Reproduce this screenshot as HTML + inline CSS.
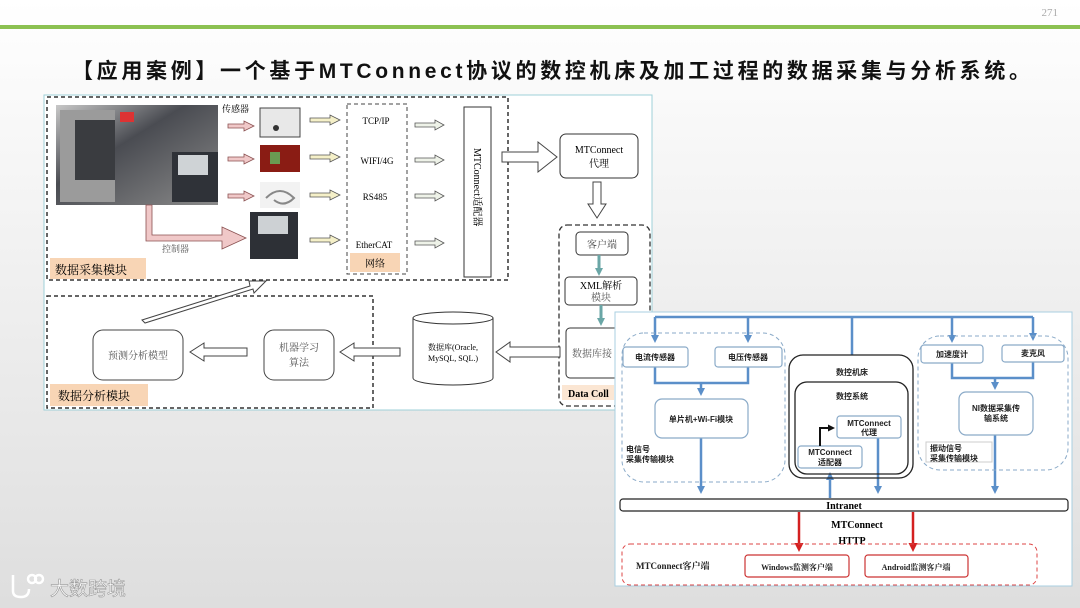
<!DOCTYPE html>
<html><head><meta charset="utf-8"><style>
html,body{margin:0;padding:0;}
body{width:1080px;height:608px;overflow:hidden;background:linear-gradient(#ffffff 0,#fafafa 90px,#ececec 350px,#dedede 608px);font-family:"Liberation Serif","Noto Serif CJK SC",serif;}
svg{position:absolute;left:0;top:0;}
</style></head><body>
<svg width="1080" height="608" viewBox="0 0 1080 608" xmlns="http://www.w3.org/2000/svg" font-family="'Liberation Serif','Noto Serif CJK SC',serif">
<defs>
<marker id="bl" markerWidth="8" markerHeight="8" refX="4" refY="4" orient="auto" markerUnits="userSpaceOnUse"><path d="M0,0 L8,4 L0,8 Z" fill="#5b8fc9"/></marker>
<marker id="rd" markerWidth="9" markerHeight="9" refX="5" refY="4.5" orient="auto" markerUnits="userSpaceOnUse"><path d="M0,0 L9,4.5 L0,9 Z" fill="#d42020"/></marker>
<marker id="bk" markerWidth="7" markerHeight="7" refX="4" refY="3.5" orient="auto" markerUnits="userSpaceOnUse"><path d="M0,0 L7,3.5 L0,7 Z" fill="#111"/></marker>
<linearGradient id="mach" x1="0" y1="0" x2="1" y2="1"><stop offset="0" stop-color="#c8c8c8"/><stop offset="0.4" stop-color="#4a4c52"/><stop offset="1" stop-color="#8a8a8a"/></linearGradient>
</defs>
<!-- header -->
<text x="1058" y="16" font-size="11" fill="#aaa" text-anchor="end">271</text>
<rect x="0" y="25" width="1080" height="4" fill="#8cc152"/>
<text x="72" y="78" font-size="21" fill="#111" font-weight="bold" font-family="'Liberation Sans','Noto Sans CJK SC',sans-serif" textLength="958" lengthAdjust="spacing">【应用案例】一个基于MTConnect协议的数控机床及加工过程的数据采集与分析系统。</text>

<!-- left panel -->
<rect x="44" y="95" width="608" height="315" fill="#fff" stroke="#9fd0d8" stroke-width="1"/>
<rect x="47" y="97" width="461" height="183" fill="none" stroke="#333" stroke-width="1.5" stroke-dasharray="4,3"/>
<rect x="56" y="105" width="162" height="100" fill="url(#mach)"/>
<rect x="60" y="110" width="55" height="92" fill="#9b9b9b"/>
<rect x="75" y="120" width="40" height="60" fill="#3a3c40"/>
<rect x="120" y="112" width="14" height="10" fill="#d33"/>
<rect x="172" y="152" width="46" height="50" fill="#2f3238"/>
<rect x="178" y="155" width="30" height="20" fill="#cfd3d6"/>
<text x="222" y="112" font-size="9">传感器</text>
<rect x="260" y="108" width="40" height="29" fill="#e8e8e8" stroke="#444"/>
<circle cx="276" cy="128" r="3" fill="#333"/>
<rect x="260" y="145" width="40" height="27" fill="#8a1c14"/>
<rect x="270" y="152" width="10" height="12" fill="#6a9a52"/>
<rect x="260" y="182" width="40" height="26" fill="#f2f2f2"/>
<path d="M266 198 q14 -14 28 0 q-10 10 -20 2" stroke="#888" fill="none" stroke-width="2"/>
<rect x="250" y="212" width="48" height="47" fill="#2d3036"/>
<rect x="258" y="216" width="30" height="18" fill="#cdd1d4"/>
<g fill="#f0c8c8" stroke="#8a5050" stroke-width="0.8">
<path d="M228 124 h16 v-3 l10 5 l-10 5 v-3 h-16 z"/>
<path d="M228 157 h16 v-3 l10 5 l-10 5 v-3 h-16 z"/>
<path d="M228 194 h16 v-3 l10 5 l-10 5 v-3 h-16 z"/>
<path d="M146 205 h6 v30 h70 v-8 l24 11 l-24 11 v-8 h-76 z"/>
</g>
<text x="162" y="252" font-size="9" fill="#555">控制器</text>
<g fill="#f5f0c8" stroke="#555" stroke-width="0.8">
<path d="M310 118 h20 v-3 l10 5 l-10 5 v-3 h-20 z"/>
<path d="M310 155 h20 v-3 l10 5 l-10 5 v-3 h-20 z"/>
<path d="M310 193 h20 v-3 l10 5 l-10 5 v-3 h-20 z"/>
<path d="M310 238 h20 v-3 l10 5 l-10 5 v-3 h-20 z"/>
</g>
<rect x="347" y="104" width="60" height="170" fill="none" stroke="#444" stroke-dasharray="4,3"/>
<g font-size="9" text-anchor="middle"><text x="376" y="124">TCP/IP</text><text x="377" y="164">WIFI/4G</text><text x="375" y="200">RS485</text><text x="374" y="248">EtherCAT</text></g>
<rect x="350" y="253" width="50" height="19" fill="#f8d5b5"/>
<text x="375" y="267" font-size="10" text-anchor="middle">网络</text>
<g fill="#eef2e8" stroke="#555" stroke-width="0.8">
<path d="M415 123 h20 v-3 l9 5 l-9 5 v-3 h-20 z"/>
<path d="M415 158 h20 v-3 l9 5 l-9 5 v-3 h-20 z"/>
<path d="M415 194 h20 v-3 l9 5 l-9 5 v-3 h-20 z"/>
<path d="M415 241 h20 v-3 l9 5 l-9 5 v-3 h-20 z"/>
</g>
<rect x="464" y="107" width="27" height="170" fill="#fff" stroke="#333"/>
<text x="474" y="148" font-size="10" transform="rotate(90 474 148)">MTConnect适配器</text>
<rect x="50" y="258" width="96" height="21" fill="#f8d5b5"/>
<text x="55" y="274" font-size="12">数据采集模块</text>
<path d="M502 152 h36 v-10 l19 15 l-19 15 v-10 h-36 z" fill="#fff" stroke="#444"/>
<rect x="560" y="134" width="78" height="44" rx="6" fill="#fff" stroke="#333"/>
<text x="599" y="153" font-size="10" text-anchor="middle">MTConnect</text>
<text x="599" y="167" font-size="10" text-anchor="middle">代理</text>
<path d="M593 182 h8 v22 h5 l-9 14 l-9 -14 h5 z" fill="#fff" stroke="#444"/>
<rect x="559" y="225" width="91" height="181" rx="8" fill="none" stroke="#333" stroke-width="1.3" stroke-dasharray="5,3"/>
<rect x="576" y="232" width="52" height="23" rx="4" fill="#fff" stroke="#333"/>
<text x="602" y="248" font-size="10" text-anchor="middle" fill="#444">客户端</text>
<path d="M599 255 v16" stroke="#6aa6a6" stroke-width="3"/><path d="M595 268 l4 8 l4 -8 z" fill="#6aa6a6"/>
<rect x="565" y="277" width="72" height="28" rx="4" fill="#fff" stroke="#333"/>
<text x="601" y="289" font-size="10" text-anchor="middle">XML解析</text>
<text x="601" y="301" font-size="10" text-anchor="middle" fill="#555">模块</text>
<path d="M601 305 v16" stroke="#6aa6a6" stroke-width="3"/><path d="M597 318 l4 8 l4 -8 z" fill="#6aa6a6"/>
<rect x="566" y="328" width="60" height="50" rx="4" fill="#fff" stroke="#333"/>
<text x="572" y="357" font-size="10" fill="#555">数据库接</text>
<rect x="562" y="385" width="52" height="15" fill="#f8d5b5" opacity="0.6"/>
<text x="568" y="397" font-size="10" font-weight="bold">Data Coll</text>
<rect x="47" y="296" width="326" height="112" fill="none" stroke="#333" stroke-width="1.5" stroke-dasharray="4,3"/>
<rect x="50" y="384" width="98" height="22" fill="#f8d5b5"/>
<text x="58" y="400" font-size="12">数据分析模块</text>
<rect x="93" y="330" width="90" height="50" rx="10" fill="#fff" stroke="#444"/>
<text x="138" y="359" font-size="10" text-anchor="middle" fill="#555">预测分析模型</text>
<rect x="264" y="330" width="70" height="50" rx="10" fill="#fff" stroke="#444"/>
<text x="299" y="351" font-size="10" text-anchor="middle" fill="#555">机器学习</text>
<text x="299" y="366" font-size="10" text-anchor="middle" fill="#555">算法</text>
<path d="M413 318 v60 a40 7 0 0 0 80 0 v-60" fill="#fff" stroke="#333"/>
<ellipse cx="453" cy="318" rx="40" ry="6" fill="#fff" stroke="#333"/>
<text x="453" y="350" font-size="8" text-anchor="middle">数据库(Oracle,</text>
<text x="453" y="361" font-size="8" text-anchor="middle">MySQL, SQL.)</text>
<path d="M560 347 h-50 v-5 l-14 10 l14 10 v-5 h50 z" fill="#fff" stroke="#444"/>
<path d="M400 348 h-46 v-5 l-14 9 l14 9 v-5 h46 z" fill="#fff" stroke="#444"/>
<path d="M247 348 h-43 v-5 l-14 9 l14 9 v-5 h43 z" fill="#fff" stroke="#444"/>
<path d="M142 320 l108 -34 l-1 -5 l17 0 l-12 12 l-1 -4 l-108 34 z" fill="#fff" stroke="#444"/>

<!-- right panel -->
<rect x="615" y="312" width="457" height="274" fill="#fff" stroke="#a9cfe0"/>
<g fill="none" stroke="#5b8fc9" stroke-width="2.5">
<path d="M655 317 H1033"/>
<path d="M655 317 V339" marker-end="url(#bl)"/>
<path d="M748 317 V339" marker-end="url(#bl)"/>
<path d="M852 317 V355"/>
<path d="M952 317 V339" marker-end="url(#bl)"/>
<path d="M1033 317 V337" marker-end="url(#bl)"/>
<path d="M655 367 V383 H748 V367"/>
<path d="M701 383 V392" marker-end="url(#bl)"/>
<path d="M701 438 V490" marker-end="url(#bl)"/>
<path d="M952 363 V378 H1033 V362"/>
<path d="M995 378 V386" marker-end="url(#bl)"/>
<path d="M995 435 V490" marker-end="url(#bl)"/>
<path d="M878 438 V490" marker-end="url(#bl)"/>
<path d="M830 498 V476" marker-end="url(#bl)"/>
</g>
<rect x="622" y="333" width="163" height="149" rx="22" fill="none" stroke="#8aaac8" stroke-dasharray="4,3"/>
<rect x="918" y="336" width="150" height="134" rx="22" fill="none" stroke="#8aaac8" stroke-dasharray="4,3"/>
<g fill="#fff" stroke="#8aaac8" stroke-width="1.2">
<rect x="623" y="347" width="65" height="20" rx="3"/>
<rect x="715" y="347" width="67" height="20" rx="3"/>
<rect x="655" y="399" width="93" height="39" rx="7"/>
<rect x="921" y="345" width="62" height="18" rx="3"/>
<rect x="1002" y="345" width="62" height="17" rx="3"/>
<rect x="959" y="392" width="74" height="43" rx="7"/>
<rect x="837" y="416" width="64" height="22" rx="3"/>
<rect x="798" y="446" width="64" height="22" rx="3"/>
</g>
<rect x="926" y="442" width="66" height="20" fill="none" stroke="#ccc"/>
<rect x="789" y="355" width="124" height="123" rx="14" fill="none" stroke="#222" stroke-width="1.3"/>
<rect x="795" y="382" width="113" height="92" rx="12" fill="none" stroke="#222" stroke-width="1.3"/>
<path d="M820 446 V428 H832" fill="none" stroke="#111" stroke-width="2" marker-end="url(#bk)"/>
<g font-size="8" font-weight="bold" fill="#222" text-anchor="middle" font-family="'Liberation Sans','Noto Sans CJK SC',sans-serif">
<text x="655" y="360">电流传感器</text>
<text x="748" y="360">电压传感器</text>
<text x="701" y="422">单片机+Wi-Fi模块</text>
<text x="852" y="375">数控机床</text>
<text x="852" y="399">数控系统</text>
<text x="869" y="426">MTConnect</text>
<text x="869" y="435">代理</text>
<text x="830" y="455">MTConnect</text>
<text x="830" y="465">适配器</text>
<text x="952" y="357">加速度计</text>
<text x="1033" y="356">麦克风</text>
<text x="996" y="411">NI数据采集传</text>
<text x="996" y="421">输系统</text>
</g>
<g font-size="8" font-weight="bold" fill="#222" font-family="'Liberation Sans','Noto Sans CJK SC',sans-serif">
<text x="626" y="452">电信号</text><text x="626" y="462">采集传输模块</text>
<text x="930" y="451">振动信号</text><text x="930" y="461">采集传输模块</text>
</g>
<rect x="620" y="499" width="448" height="12" rx="3" fill="#fff" stroke="#222" stroke-width="1.2"/>
<text x="844" y="509" font-size="10" font-weight="bold" text-anchor="middle">Intranet</text>
<g stroke="#d42020" stroke-width="2.5" fill="none">
<path d="M799 512 V548" marker-end="url(#rd)"/>
<path d="M913 512 V548" marker-end="url(#rd)"/>
</g>
<text x="857" y="528" font-size="10" font-weight="bold" text-anchor="middle">MTConnect</text>
<text x="852" y="544" font-size="10" font-weight="bold" text-anchor="middle">HTTP</text>
<rect x="622" y="544" width="415" height="41" rx="8" fill="none" stroke="#d44" stroke-dasharray="4,3"/>
<rect x="745" y="555" width="104" height="22" rx="3" fill="#fff" stroke="#c33" stroke-width="1.2"/>
<rect x="865" y="555" width="103" height="22" rx="3" fill="#fff" stroke="#c33" stroke-width="1.2"/>
<g font-weight="bold" fill="#222">
<text x="636" y="569" font-size="9">MTConnect客户端</text>
<text x="797" y="570" font-size="8" text-anchor="middle">Windows监测客户端</text>
<text x="916" y="570" font-size="8" text-anchor="middle">Android监测客户端</text>
</g>
<!-- logo -->
<g fill="none" stroke="#fff" stroke-width="2.5">
<path d="M13 575 v16 q0 6 8 6 q8 0 8 -8"/>
<circle cx="32" cy="579" r="4"/><circle cx="39" cy="579" r="4"/>
</g>
<text x="50" y="595" font-size="19" fill="#fff" font-family="'Liberation Sans','Noto Sans CJK SC',sans-serif" stroke="#999" stroke-width="0.6">大数跨境</text>
</svg>
</body></html>
